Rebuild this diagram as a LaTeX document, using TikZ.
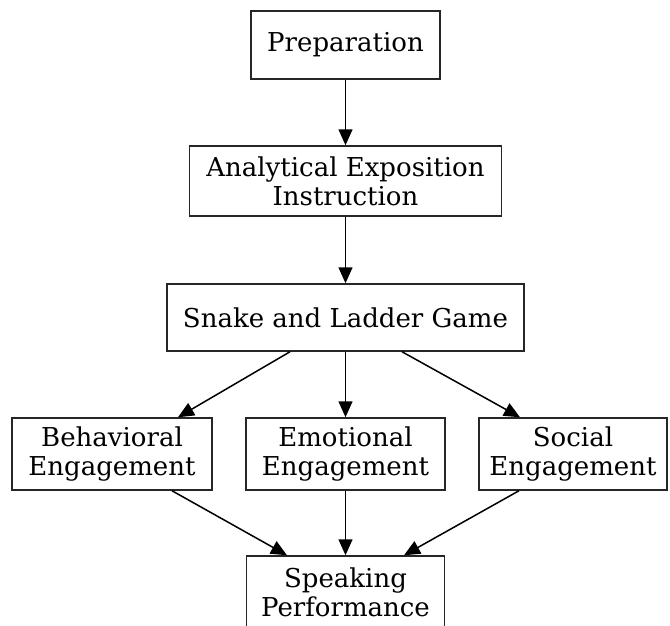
\documentclass[tikz,border=0pt]{standalone}
\usepackage{fontspec}
\setmainfont{DejaVu Serif}
\usetikzlibrary{arrows.meta}
\begin{document}
\begin{tikzpicture}[x=1pt,y=-1pt,
  box/.style={draw=black!85, line width=1.5pt, rectangle, inner sep=0pt, align=center,
    font=\fontsize{26}{29}\selectfont},
  conn/.style={line width=1.5pt, -{Triangle[length=16pt,width=14pt]}}]
\clip (0,0) rectangle (670,626);
\fill[white] (0,0) rectangle (670,626);
\node[box, minimum width=189pt, minimum height=68pt] (prep) at (345.5,45) {Preparation};
\node[box, minimum width=312pt, minimum height=70pt] (aei) at (345.5,181) {Analytical Exposition\\Instruction};
\node[box, minimum width=357pt, minimum height=67pt] (snake) at (345.5,317.5) {Snake and Ladder Game};
\node[box, minimum width=200pt, minimum height=72pt] (beh) at (112,454) {Behavioral\\Engagement};
\node[box, minimum width=199pt, minimum height=72pt] (emo) at (345.5,454) {Emotional\\Engagement};
\node[box, minimum width=188pt, minimum height=72pt] (soc) at (573,454) {Social\\Engagement};
\node[box, minimum width=198pt, minimum height=72pt] (spk) at (345.5,592) {Speaking\\Performance};
\draw[conn] (prep.south) -- (aei.north);
\draw[conn] (aei.south) -- (snake.north);
\draw[conn] (snake.south) -- (emo.north);
\draw[conn] (snake.south -| 290,0) -- (beh.north -| 178,0);
\draw[conn] (snake.south -| 402,0) -- (soc.north -| 520,0);
\draw[conn] (beh.south -| 172,0) -- (spk.north -| 287,0);
\draw[conn] (emo.south) -- (spk.north);
\draw[conn] (soc.south -| 519,0) -- (spk.north -| 404,0);
\end{tikzpicture}
\end{document}
